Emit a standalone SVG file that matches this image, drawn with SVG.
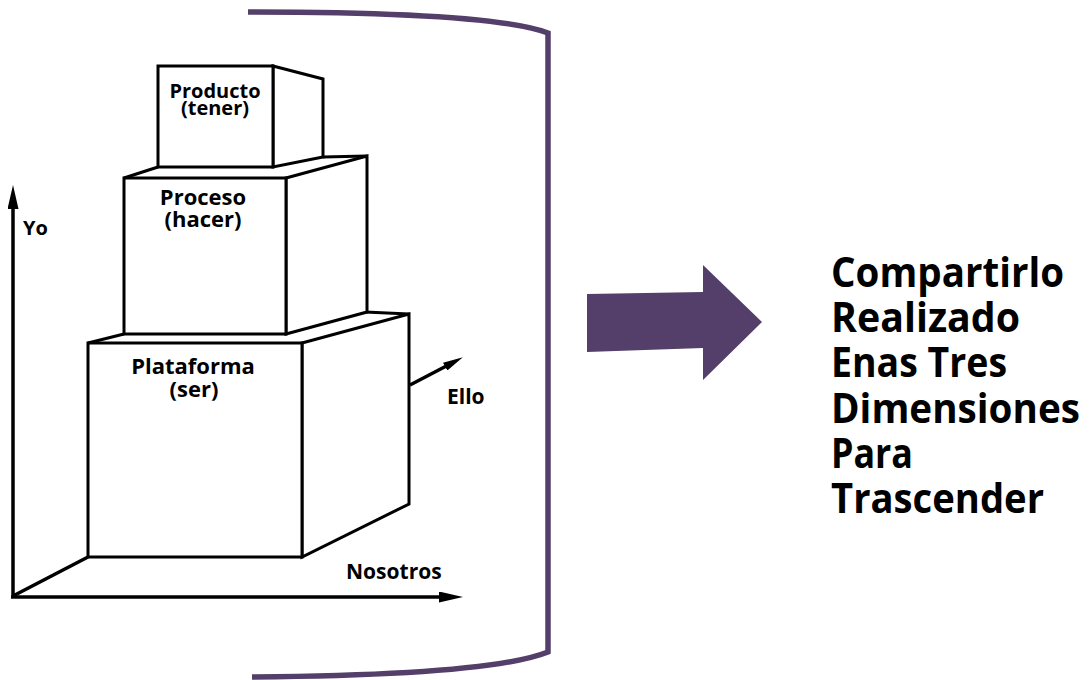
<svg xmlns="http://www.w3.org/2000/svg" width="1091" height="680" viewBox="0 0 1091 680">
<style>
.face{fill:#fff;stroke:#000;stroke-width:3;stroke-linejoin:miter}
.edge{fill:none;stroke:#000;stroke-width:3}
.axis{fill:none;stroke:#000;stroke-width:3.5}
.lbl{font-family:"Open Sans","Noto Sans",sans-serif;font-weight:700;fill:#000}
.c{text-anchor:middle}
.big{font-family:"Open Sans","Noto Sans",sans-serif;font-weight:700;font-size:41px;fill:#000}
.purple{fill:#533F6A}
</style>
<defs>
<marker id="ah" markerUnits="userSpaceOnUse" markerWidth="24" markerHeight="11" refX="12" refY="5.5" orient="auto" viewBox="0 0 24 11">
<path d="M0,0 L24,5.5 L0,11 Z" fill="#000"/>
</marker>
<marker id="ahs" markerUnits="userSpaceOnUse" markerWidth="20" markerHeight="9" refX="10" refY="4.5" orient="auto" viewBox="0 0 20 9">
<path d="M0,0 L20,4.5 L0,9 Z" fill="#000"/>
</marker>
</defs>

<g id="bracket">
<path d="M248,12 C390,12 505,17 548,33 L548,652 C505,669 390,676 252,677" fill="none" stroke="#533F6A" stroke-width="5.5"/>
</g>

<g id="connectors">
<line class="axis" x1="13" y1="598" x2="13" y2="197" marker-end="url(#ah)"/>
<line class="axis" x1="11" y1="597" x2="451" y2="597" marker-end="url(#ah)"/>
<line class="axis" x1="13" y1="596" x2="88" y2="557"/>
<line class="axis" x1="410" y1="385" x2="454" y2="362" marker-end="url(#ahs)"/>
</g>

<g id="plataforma">
<polygon class="face" points="302,343 409,314 409,504 302,557"/>
<rect class="face" x="88" y="343" width="214" height="214"/>
<path class="edge" d="M88,343 L124,334 M365,312 L409,314"/>
<text class="lbl c" x="193" y="374" font-size="22">Plataforma</text>
<text class="lbl c" x="194" y="397" font-size="22">(ser)</text>
</g>

<g id="proceso">
<polygon class="face" points="286,178 367,156 367,312 286,334"/>
<rect class="face" x="124" y="178" width="162" height="156"/>
<path class="edge" d="M124,178 L158,167 M323,157 L367,156"/>
<text class="lbl c" x="203" y="205" font-size="22">Proceso</text>
<text class="lbl c" x="203" y="227" font-size="22">(hacer)</text>
</g>

<g id="producto">
<polygon class="face" points="273,66 323,79 323,157 273,167"/>
<rect class="face" x="158" y="66" width="115" height="101"/>
<text class="lbl c" x="215" y="98" font-size="20">Producto</text>
<text class="lbl c" x="215" y="115" font-size="20">(tener)</text>
</g>

<g id="axis-labels">
<text class="lbl" x="23" y="235" font-size="20">Yo</text>
<text class="lbl" x="447" y="404" font-size="21">Ello</text>
<text class="lbl" x="346" y="579" font-size="21">Nosotros</text>
</g>

<g id="big-arrow">
<polygon class="purple" points="587,294 703,292 703,265 762,322 703,380 703,348 587,352"/>
</g>

<g id="statement">
<text class="big" x="831" y="287" textLength="233" lengthAdjust="spacingAndGlyphs">Compartirlo</text>
<text class="big" x="831" y="332" textLength="189" lengthAdjust="spacingAndGlyphs">Realizado</text>
<text class="big" x="831" y="377" textLength="176" lengthAdjust="spacingAndGlyphs">Enas Tres</text>
<text class="big" x="831" y="423" textLength="249" lengthAdjust="spacingAndGlyphs">Dimensiones</text>
<text class="big" x="831" y="468" textLength="82" lengthAdjust="spacingAndGlyphs">Para</text>
<text class="big" x="831" y="513" textLength="213" lengthAdjust="spacingAndGlyphs">Trascender</text>
</g>
</svg>
